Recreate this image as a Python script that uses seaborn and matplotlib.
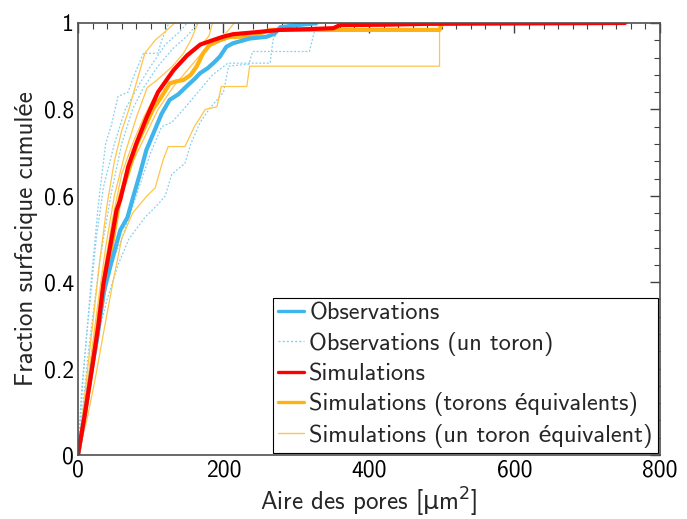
import matplotlib
matplotlib.use("Agg")
import matplotlib.pyplot as plt
from matplotlib.lines import Line2D
from matplotlib.ticker import MultipleLocator
import seaborn as sns

# Mean curves (pore area in um^2, cumulative surface fraction)
obs_x = [0, 10, 18, 26, 35, 45, 58, 68, 76, 85, 94, 105, 115, 126, 138, 149, 160, 168, 178, 186,
         195, 204, 213, 236, 259, 270, 278, 300, 320, 328]
obs_y = [0, 0.10, 0.19, 0.266, 0.374, 0.44, 0.52, 0.55, 0.598, 0.65, 0.706, 0.75, 0.79, 0.822, 0.835,
         0.853, 0.87, 0.884, 0.895, 0.907, 0.922, 0.945, 0.953, 0.964, 0.968, 0.975, 0.99, 0.995, 0.998, 1.0]

sim_x = [0, 10, 19, 28, 35, 45, 53, 58, 69, 80, 94, 110, 131, 150, 168, 185, 199, 213, 240, 278,
         320, 351, 360, 420, 479, 600, 752]
sim_y = [0, 0.10, 0.197, 0.30, 0.397, 0.49, 0.567, 0.59, 0.667, 0.72, 0.78, 0.84, 0.89, 0.925, 0.95,
         0.96, 0.968, 0.974, 0.978, 0.984, 0.986, 0.988, 0.995, 0.996, 0.998, 0.999, 1.0]

eq_x = [0, 10, 20, 30, 40, 50, 58, 70, 81, 92, 103, 115, 126, 135, 145, 155, 163, 172, 181, 195,
        209, 236, 264, 270, 497, 500, 745]
eq_y = [0, 0.10, 0.21, 0.32, 0.42, 0.52, 0.598, 0.66, 0.72, 0.76, 0.80, 0.83, 0.86, 0.865, 0.868,
        0.88, 0.899, 0.93, 0.949, 0.96, 0.968, 0.968, 0.984, 0.984, 0.984, 1.0, 1.0]

# Single strand observations
obs_single = [
    ([0, 8, 18, 28, 38, 46, 55, 69, 75, 90, 110, 115, 125],
     [0, 0.2, 0.4, 0.58, 0.72, 0.764, 0.83, 0.84, 0.87, 0.93, 0.93, 0.96, 1.0]),
    ([0, 15, 30, 45, 60, 75, 90, 110, 130, 150, 165],
     [0, 0.25, 0.45, 0.6, 0.72, 0.8, 0.85, 0.9, 0.94, 0.97, 1.0]),
    ([0, 10, 25, 40, 55, 70, 92, 110, 120, 129, 147, 155, 168, 180, 200, 207, 235, 240, 318, 328],
     [0, 0.12, 0.26, 0.36, 0.44, 0.5, 0.55, 0.58, 0.6, 0.65, 0.675, 0.72, 0.77, 0.8, 0.84, 0.9,
      0.905, 0.934, 0.934, 1.0]),
    ([0, 12, 25, 40, 60, 80, 100, 115, 129, 145, 165, 185, 206, 264, 268, 280],
     [0, 0.16, 0.3, 0.42, 0.5, 0.6, 0.7, 0.76, 0.77, 0.8, 0.84, 0.88, 0.907, 0.907, 0.96, 1.0]),
    ([0, 5, 15, 25, 35, 50, 65, 85, 100, 120, 140, 150],
     [0, 0.15, 0.33, 0.5, 0.62, 0.72, 0.8, 0.86, 0.9, 0.95, 0.98, 1.0]),
]

# Single equivalent strand simulations
sim_single = [
    ([0, 12, 23, 37, 48, 60, 75, 95, 106, 117, 124, 147, 160, 175, 191, 197, 232, 236, 497, 497],
     [0, 0.08, 0.17, 0.3, 0.4, 0.5, 0.56, 0.6, 0.618, 0.683, 0.714, 0.714, 0.76, 0.8, 0.806, 0.853,
      0.853, 0.9, 0.9, 1.0]),
    ([0, 10, 20, 30, 40, 50, 60, 70, 80, 92, 106, 120, 133],
     [0, 0.15, 0.3, 0.45, 0.58, 0.68, 0.75, 0.8, 0.86, 0.93, 0.96, 0.98, 1.0]),
    ([0, 12, 25, 38, 50, 65, 80, 95, 110, 130, 145, 155, 165],
     [0, 0.15, 0.32, 0.48, 0.6, 0.7, 0.78, 0.85, 0.87, 0.9, 0.93, 0.96, 1.0]),
    ([0, 10, 22, 35, 48, 60, 75, 90, 105, 125, 150, 170, 180, 185],
     [0, 0.12, 0.27, 0.42, 0.55, 0.65, 0.72, 0.78, 0.83, 0.88, 0.92, 0.95, 0.97, 1.0]),
    ([0, 14, 28, 42, 55, 70, 90, 110, 130, 150, 170, 185, 200, 215],
     [0, 0.14, 0.3, 0.45, 0.57, 0.66, 0.73, 0.8, 0.85, 0.89, 0.93, 0.96, 0.97, 1.0]),
]

labels = ["Observations", "Observations (un toron)", "Simulations",
          "Simulations (torons équivalents)", "Simulations (un toron équivalent)"]

c_obs = "#3fb5ec"
c_obs_single = "#86cff0"
c_sim = "#ff0000"
c_eq = "#ffb214"
c_eq_single = "#ffc54a"

sns.set_style("white")
plt.rcParams["font.family"] = ["cmss10", "Lato", "DejaVu Sans"]
plt.rcParams["mathtext.fontset"] = "dejavusans"
plt.rcParams["axes.unicode_minus"] = False

fig = plt.figure(figsize=(6.87, 5.19), dpi=100)
ax = fig.add_axes([0.1135, 0.1233, 0.8472, 0.8324])

dotted = (0, (1.5, 1.5))
for xs, ys in obs_single:
    sns.lineplot(x=xs, y=ys, ax=ax, color=c_obs_single, lw=0.9, linestyle=dotted, sort=False, estimator=None)
for xs, ys in sim_single:
    sns.lineplot(x=xs, y=ys, ax=ax, color=c_eq_single, lw=0.9, sort=False, estimator=None)
sns.lineplot(x=eq_x, y=eq_y, ax=ax, color=c_eq, lw=3, sort=False, estimator=None)
sns.lineplot(x=obs_x, y=obs_y, ax=ax, color=c_obs, lw=3, sort=False, estimator=None)
sns.lineplot(x=sim_x, y=sim_y, ax=ax, color=c_sim, lw=3, sort=False, estimator=None)

ax.set_xlim(0, 800)
ax.set_ylim(0, 1)
ax.xaxis.set_major_locator(MultipleLocator(200))
ax.xaxis.set_minor_locator(MultipleLocator(20))
ax.yaxis.set_minor_locator(MultipleLocator(0.04))
ax.set_yticks([0, 0.2, 0.4, 0.6, 0.8, 1])
ax.set_yticklabels(["0", "0.2", "0.4", "0.6", "0.8", "1"])
ax.tick_params(which="both", direction="in", top=True, right=True, colors="#404040",
               labelcolor="black", labelsize=17, pad=3)
ax.tick_params(which="major", length=7, width=1)
ax.tick_params(which="minor", length=4, width=0.8)
for s in ax.spines.values():
    s.set_color("#505050")
    s.set_linewidth(1.2)

ax.set_xlabel(r"Aire des pores [$\mathrm{\mu}$m$^2$]", fontsize=18, labelpad=3)
ax.set_ylabel("Fraction surfacique cumulée", fontsize=18, labelpad=4)

handles = [
    Line2D([], [], color=c_obs, lw=2.4),
    Line2D([], [], color=c_obs_single, lw=1, linestyle=dotted),
    Line2D([], [], color=c_sim, lw=2.4),
    Line2D([], [], color=c_eq, lw=2.4),
    Line2D([], [], color=c_eq_single, lw=1),
]
leg = ax.legend(handles, labels, loc="lower right", fontsize=17.5, frameon=True, fancybox=False,
                framealpha=1, edgecolor="black", handlelength=1.1, handletextpad=0.2,
                borderaxespad=0.1, borderpad=0.2, labelspacing=0.3)
leg.get_frame().set_linewidth(0.8)

fig.savefig("out.png", dpi=100)
